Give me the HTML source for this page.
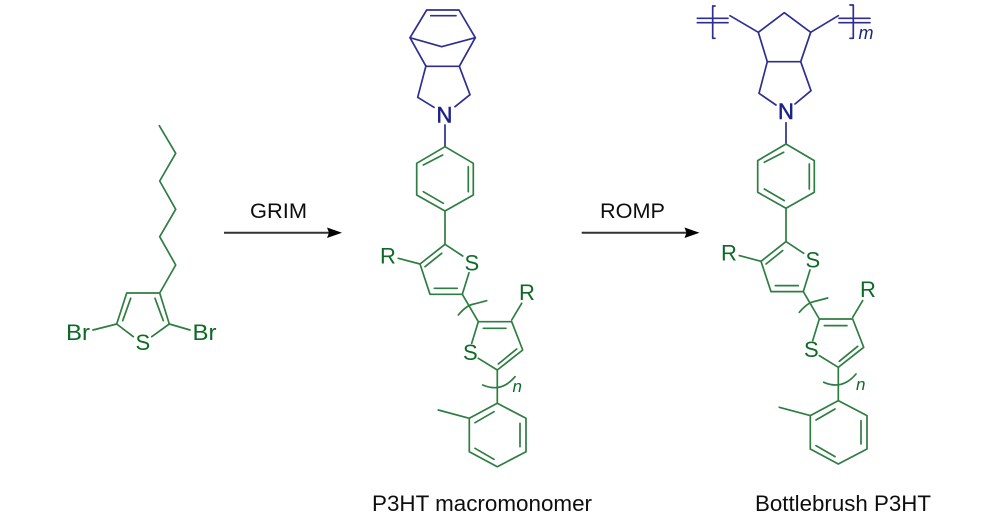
<!DOCTYPE html>
<html>
<head>
<meta charset="utf-8">
<style>
html,body{margin:0;padding:0;background:#fff;width:1000px;height:523px;overflow:hidden}
svg{display:block}
text{font-family:"Liberation Sans",sans-serif}
.g path{fill:none;stroke:#2f7d42;stroke-width:1.7;stroke-linecap:round;stroke-linejoin:round}
.b path{fill:none;stroke:#2d2f90;stroke-width:1.7;stroke-linecap:round;stroke-linejoin:round}
.gt{fill:#0f6a28;font-size:22px}
.bt{fill:#1f2188;font-size:22px;stroke:#1f2188;stroke-width:.5}
.k{fill:#111;font-size:21px}
.c{fill:#111;font-size:22px}
</style>
</head>
<body>
<svg width="1000" height="523" viewBox="0 0 1000 523" xmlns="http://www.w3.org/2000/svg">
<defs><filter id="s" x="-5%" y="-5%" width="110%" height="110%"><feGaussianBlur stdDeviation="0.3"/></filter></defs>
<g filter="url(#s)">

<!-- Monomer -->
<g class="g">
<path d="M159.3 125.7L175.7 153.3L159.7 181L175.7 209.3L159.7 236.7L175.7 265L159.7 293L126.7 293L116.7 324L133.3 336.7M151.7 336.7L169.3 324L159.7 293"/>
<path d="M122.7 320.7L130.7 298.3M155 298.3L163.3 320.7M93 330L116.7 324M169.3 324L190 330"/>
</g>
<text class="gt" x="66" y="340" textLength="24" lengthAdjust="spacingAndGlyphs">Br</text>
<text class="gt" x="192.500" y="340" textLength="24" lengthAdjust="spacingAndGlyphs">Br</text>
<text class="gt" x="135.500" y="350">S</text>

<!-- Arrows -->
<path d="M224 232.700H330" stroke="#333" stroke-width="2" fill="none"/>
<path d="M342 232.700L327 227.500L329 232.700L327 238Z" fill="#000"/>
<text class="k" x="250" y="218" textLength="57" lengthAdjust="spacingAndGlyphs">GRIM</text>
<path d="M581.700 232.700H688" stroke="#333" stroke-width="2" fill="none"/>
<path d="M699.500 232.700L684.500 227.500L686.500 232.700L684.500 238Z" fill="#000"/>
<text class="k" x="600" y="218" textLength="65" lengthAdjust="spacingAndGlyphs">ROMP</text>

<!-- Macromonomer blue -->
<g class="b">
<path d="M426.700 10H459L475.300 37.700L459.300 66.300H426L410 37.700Z"/>
<path d="M430.700 15.700H456M410 37.700L441.700 46.700L475.300 37.700"/>
<path d="M426 65.700L417.700 97.300L434 107.300M459.300 66.300L470 94.700L455 106.700M445 125V146.700"/>
</g>
<text class="bt" x="436.500" y="122.500">N</text>

<!-- Macromonomer green -->
<g class="g">
<path d="M445 146.700L473.300 163.300V195L445 211L416.700 195V163.300Z"/>
<path d="M468.300 166.700V191.700M423.300 191.700L443.300 203.300M423.300 165L442.700 155"/>
<path d="M445 211V244.300L462.700 256M469 272.700L462.300 294.300H430L420 264L445 244.300M425 266.700L441.700 253.300M434.300 288.300H457.300M398.300 258.300L420 264"/>
<path d="M462.300 294.300L478.300 321.700H511.700L522.700 350L497.300 370L478.300 358.300M471.700 343.300L478.300 321.700M483.300 328.300H506M498.300 364L516.700 349M511.700 320L521.700 303.300"/>
<path d="M458.300 315Q466 306 472 304.500T486.700 300.700"/>
<path d="M497.300 370V403.300L526 418.300V451.700L497.300 466.700L469.300 451.700V418.300L497.300 403.300M520 423.300V446.700M475 448.300L494 459.300M475 422.700L494 411.700M469.300 418.300L438.300 410"/>
<path d="M482.700 385Q492 389 500 387T515 376.700"/>
</g>
<text class="gt" x="380" y="263.500">R</text>
<text class="gt" x="463" y="360">S</text>
<text class="gt" x="464.500" y="270.500">S</text>
<text class="gt" x="519" y="300">R</text>
<text class="gt" x="512.500" y="392" style="font-style:italic;font-size:17px">n</text>

<!-- Polymer blue -->
<g class="b">
<path d="M697.300 18.300H728M697.300 22.700H728M715 6H712.700V38.300H715"/>
<path d="M730 15.700L758.300 32.300L784.300 12.700L810.700 32.300L838.300 15.700M839 18.300H870M839 22.700H870M850 5H853.300V38.300H850"/>
<path d="M758.300 32.300L767.300 61.700H800.700L810.700 32.300"/>
<path d="M767.300 61.700L759 93.300L776 105M800.700 61.700L811 90.700L795 104M786 122.700V144"/>
</g>
<text class="bt" x="778" y="119">N</text>
<text class="bt" x="858.500" y="39" style="font-style:italic;font-size:18px;stroke:none">m</text>

<!-- Polymer green -->
<g class="g" transform="translate(341 -2.700)">
<path d="M445 146.700L473.300 163.300V195L445 211L416.700 195V163.300Z"/>
<path d="M468.300 166.700V191.700M423.300 191.700L443.300 203.300M423.300 165L442.700 155"/>
<path d="M445 211V244.300L462.700 256M469 272.700L462.300 294.300H430L420 264L445 244.300M425 266.700L441.700 253.300M434.300 288.300H457.300M398.300 258.300L420 264"/>
<path d="M462.300 294.300L478.300 321.700H511.700L522.700 350L497.300 370L478.300 358.300M471.700 343.300L478.300 321.700M483.300 328.300H506M498.300 364L516.700 349M511.700 320L521.700 303.300"/>
<path d="M458.300 315Q466 306 472 304.500T486.700 300.700"/>
<path d="M497.300 370V403.300L526 418.300V451.700L497.300 466.700L469.300 451.700V418.300L497.300 403.300M520 423.300V446.700M475 448.300L494 459.300M475 422.700L494 411.700M469.300 418.300L438.300 410"/>
<path d="M482.700 385Q492 389 500 387T515 376.700"/>
</g>
<text class="gt" x="721" y="260.500">R</text>
<text class="gt" x="804" y="357">S</text>
<text class="gt" x="805.500" y="267.500">S</text>
<text class="gt" x="860" y="297">R</text>
<text class="gt" x="856" y="390" style="font-style:italic;font-size:17px">n</text>

<!-- Captions -->
<text class="c" x="372" y="511" textLength="220" lengthAdjust="spacingAndGlyphs">P3HT macromonomer</text>
<text class="c" x="755" y="511" textLength="176" lengthAdjust="spacingAndGlyphs">Bottlebrush P3HT</text>
</g>
</svg>
</body>
</html>
